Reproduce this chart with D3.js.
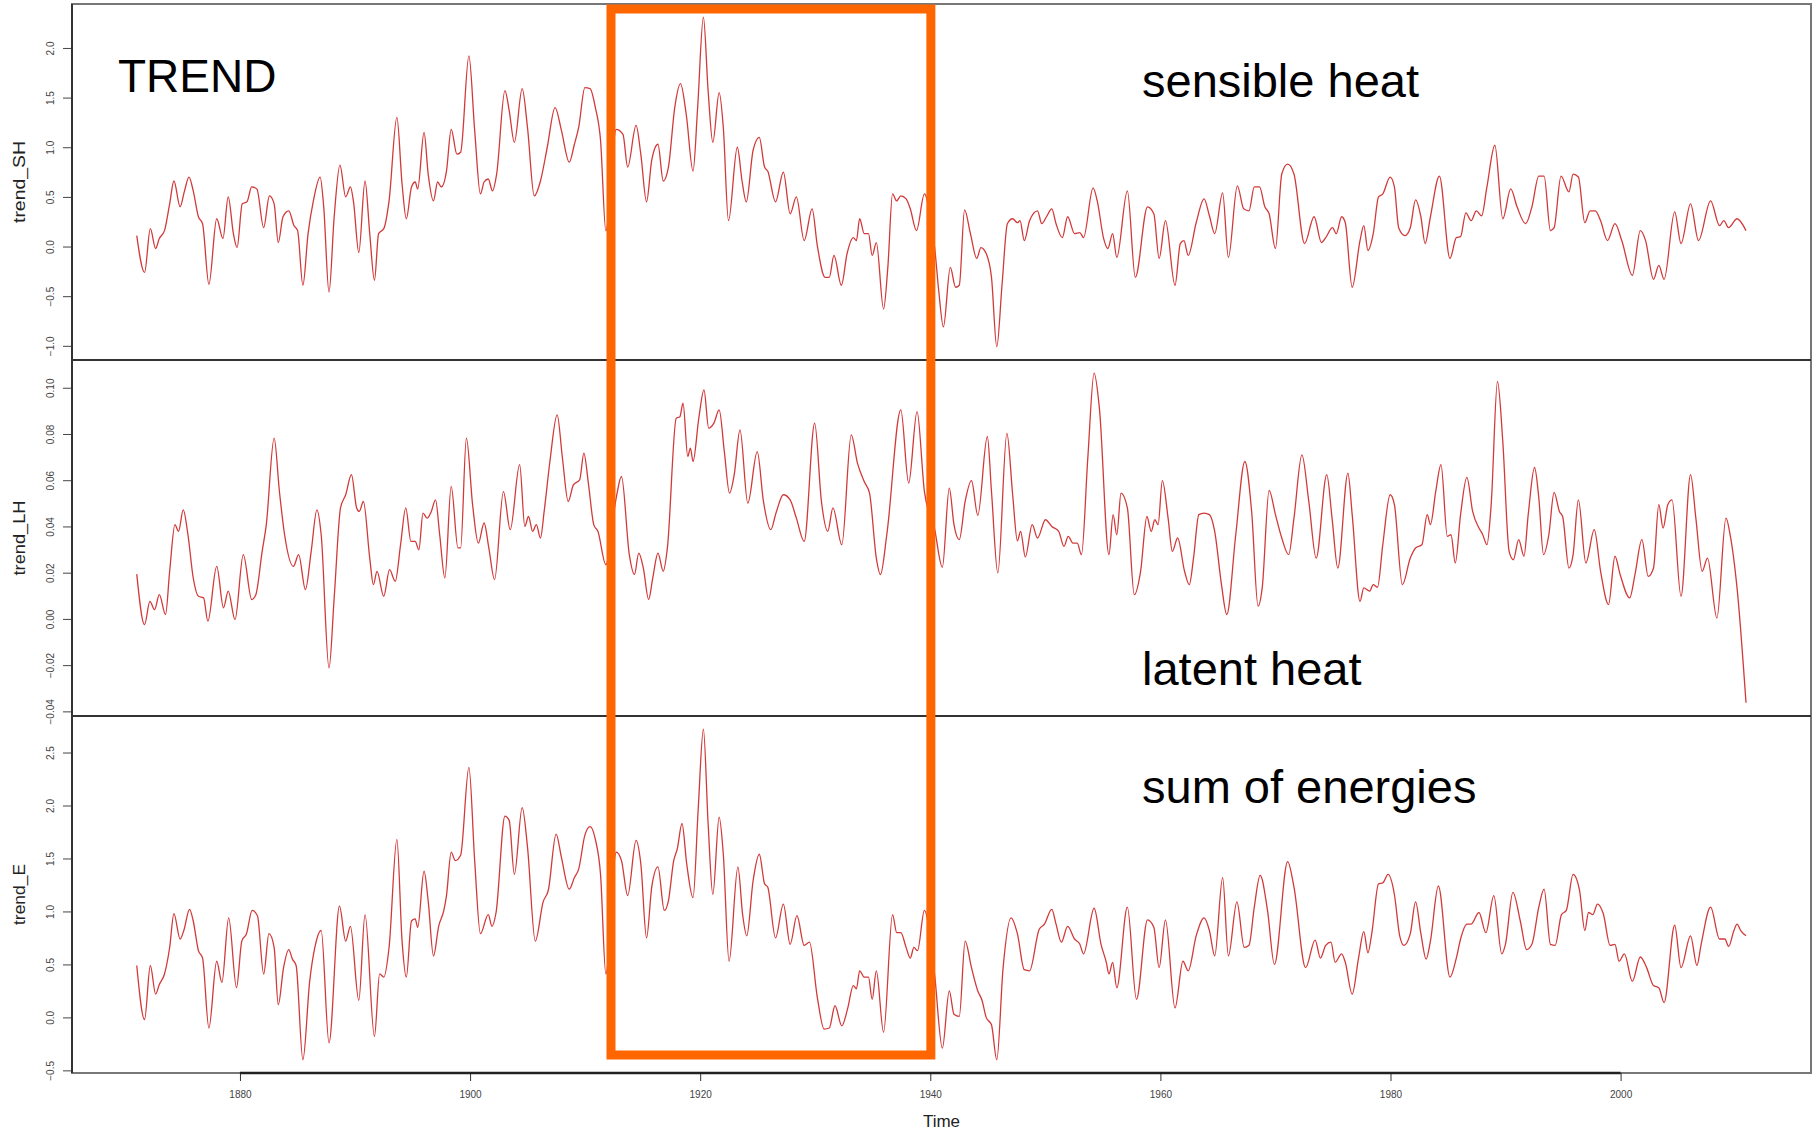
<!DOCTYPE html>
<html lang="en">
<head>
<meta charset="UTF-8">
<title>TREND</title>
<script src="https://d3js.org/d3.v7.min.js"></script>
<style>
  body { margin: 0; background: #fff; }
  svg text { font-family: "Liberation Sans", Arial, Helvetica, sans-serif; }
</style>
</head>
<body>
<svg id="chart" width="1818" height="1131"></svg>
<script>
// values: [year, value]
const trendSH = [
  [1871.03,0.11],[1871.71,-0.26],[1872.21,0.18],[1872.67,-0.02],[1872.99,0.08],[1873.44,0.16],[1873.89,0.43],[1874.26,0.66],[1874.80,0.40],[1875.16,0.55],
  [1875.57,0.70],[1875.94,0.56],[1876.39,0.30],[1876.75,0.23],[1877.30,-0.38],[1877.98,0.28],[1878.52,0.08],[1878.98,0.50],[1879.43,0.13],[1879.75,-0.01],
  [1880.20,0.43],[1880.61,0.45],[1881.02,0.60],[1881.47,0.58],[1882.06,0.19],[1882.56,0.51],[1882.97,0.43],[1883.33,0.04],[1883.74,0.30],[1884.24,0.36],
  [1884.70,0.21],[1885.01,0.16],[1885.47,-0.39],[1885.92,0.13],[1886.38,0.46],[1886.97,0.70],[1887.28,0.40],[1887.74,-0.46],[1888.19,0.30],[1888.69,0.82],
  [1889.19,0.50],[1889.60,0.60],[1889.87,0.45],[1890.33,-0.06],[1890.87,0.66],[1891.28,0.13],[1891.69,-0.34],[1892.05,0.13],[1892.50,0.18],[1892.96,0.46],
  [1893.64,1.30],[1894.09,0.63],[1894.46,0.28],[1894.91,0.60],[1895.23,0.65],[1895.45,0.58],[1896.00,1.15],[1896.36,0.73],[1896.82,0.46],[1897.18,0.65],
  [1897.50,0.60],[1897.95,0.76],[1898.36,1.18],[1898.86,0.93],[1899.18,0.95],[1899.90,1.92],[1900.40,1.17],[1900.90,0.53],[1901.22,0.65],[1901.58,0.68],
  [1901.95,0.56],[1902.31,0.73],[1903.03,1.57],[1903.40,1.37],[1903.85,1.05],[1904.53,1.59],[1904.99,1.20],[1905.58,0.51],[1906.12,0.66],[1906.71,1.00],
  [1907.39,1.40],[1907.94,1.17],[1908.62,0.85],[1909.07,1.03],[1909.44,1.20],[1909.98,1.60],[1910.43,1.59],[1910.89,1.40],[1911.34,1.07],[1911.80,0.16],
  [1912.70,1.18],[1913.29,1.13],[1913.70,0.80],[1914.43,1.22],[1914.84,0.93],[1915.34,0.45],[1915.79,0.87],[1916.33,1.03],[1916.79,0.66],[1917.24,0.80],
  [1917.79,1.40],[1918.29,1.64],[1918.79,1.33],[1919.38,0.76],[1919.78,1.40],[1920.28,2.31],[1920.69,1.57],[1921.10,1.05],[1921.65,1.55],[1922.01,1.20],
  [1922.46,0.26],[1923.23,1.00],[1923.64,0.66],[1924.01,0.45],[1924.60,0.97],[1925.14,1.10],[1925.60,0.80],[1925.87,0.76],[1926.55,0.45],[1927.23,0.75],
  [1927.82,0.33],[1928.36,0.50],[1929.04,0.06],[1929.73,0.38],[1930.18,0.01],[1930.86,-0.31],[1931.22,-0.31],[1931.63,-0.09],[1932.27,-0.39],[1932.77,-0.07],
  [1933.31,0.09],[1933.58,0.06],[1933.86,0.28],[1934.26,0.13],[1934.63,0.13],[1934.95,-0.09],[1935.31,0.04],[1935.94,-0.63],[1936.31,-0.21],[1936.72,0.53],
  [1937.08,0.46],[1937.44,0.51],[1937.90,0.48],[1938.26,0.38],[1938.80,0.16],[1939.49,0.53],[1940.17,0.16],
  [1940.36,0.01],[1940.73,-0.44],[1941.14,-0.81],[1941.74,-0.21],[1942.20,-0.41],[1942.52,-0.39],[1942.98,0.37],[1943.49,0.13],[1944.04,-0.12],[1944.40,-0.01],
  [1944.86,-0.07],[1945.32,-0.31],[1945.78,-1.01],[1946.24,-0.38],[1946.70,0.23],[1947.16,0.28],[1947.57,0.24],[1947.80,0.26],[1948.17,0.06],[1948.63,0.26],
  [1949.32,0.36],[1949.69,0.23],[1950.10,0.30],[1950.56,0.38],[1950.93,0.23],[1951.48,0.09],[1951.94,0.30],[1952.54,0.13],[1953.00,0.14],[1953.32,0.09],
  [1954.15,0.59],[1954.51,0.46],[1955.07,0.08],[1955.43,-0.02],[1955.85,0.13],[1956.21,-0.11],[1957.13,0.56],[1957.82,-0.31],[1958.88,0.40],[1959.43,0.33],
  [1959.89,-0.12],[1960.44,0.26],[1961.27,-0.39],[1961.73,0.03],[1962.05,0.06],[1962.42,-0.09],[1963.11,0.24],[1963.80,0.48],[1964.26,0.31],[1964.72,0.13],
  [1965.41,0.54],[1965.91,-0.11],[1966.69,0.61],[1967.24,0.38],[1967.70,0.36],[1968.16,0.60],[1968.62,0.60],[1969.08,0.40],[1969.45,0.33],[1970.00,-0.02],
  [1970.55,0.73],[1971.06,0.83],[1971.61,0.73],[1972.53,0.03],[1973.36,0.30],[1974.00,0.04],[1974.37,0.09],[1974.96,0.19],[1975.29,0.13],[1975.75,0.30],
  [1976.07,0.24],[1976.67,-0.41],[1977.35,0.06],[1977.68,0.21],[1978.04,-0.04],[1978.50,0.13],[1978.96,0.50],[1979.33,0.53],[1979.97,0.70],[1980.34,0.60],
  [1980.71,0.19],[1981.26,0.11],[1981.72,0.19],[1982.18,0.47],[1982.64,0.30],[1983.01,0.03],[1983.47,0.30],[1984.25,0.71],[1985.17,-0.12],[1985.72,0.09],
  [1986.09,0.10],[1986.55,0.34],[1987.01,0.26],[1987.46,0.36],[1987.92,0.31],[1988.38,0.60],[1989.07,1.02],[1989.76,0.28],[1990.45,0.58],[1991.00,0.40],
  [1991.74,0.23],[1992.29,0.40],[1992.89,0.71],[1993.35,0.71],[1993.90,0.16],[1994.22,0.19],[1994.82,0.71],[1995.51,0.55],[1995.87,0.73],[1996.33,0.70],
  [1996.89,0.24],[1997.35,0.36],[1997.80,0.36],[1998.26,0.26],[1998.86,0.06],[1999.51,0.23],[2000.10,0.06],[2001.02,-0.29],[2001.71,0.16],[2002.17,0.06],
  [2002.86,-0.33],[2003.32,-0.19],[2003.78,-0.33],[2004.70,0.35],[2005.25,0.03],[2006.08,0.43],[2006.77,0.06],[2007.82,0.46],[2008.60,0.21],[2008.97,0.26],
  [2009.39,0.19],[2010.12,0.28],[2010.90,0.16]
];

const trendLH = [
  [1871.03,0.0194],[1871.71,-0.0025],[1872.17,0.0076],[1872.58,0.0040],[1872.99,0.0105],[1873.53,0.0019],[1873.89,0.0206],[1874.35,0.0408],[1874.66,0.0379],[1875.07,0.0472],
  [1875.48,0.0364],[1875.94,0.0177],[1876.39,0.0098],[1876.84,0.0091],[1877.21,-0.0010],[1877.98,0.0227],[1878.57,0.0048],[1878.98,0.0120],[1879.57,-0.0003],[1880.29,0.0278],
  [1881.02,0.0084],[1881.38,0.0105],[1881.93,0.0292],[1882.29,0.0408],[1882.97,0.0782],[1883.43,0.0551],[1883.88,0.0364],[1884.65,0.0227],[1885.10,0.0278],[1885.69,0.0127],
  [1886.19,0.0292],[1886.69,0.0472],[1887.06,0.0364],[1887.74,-0.0212],[1888.19,0.0091],[1888.74,0.0480],[1889.19,0.0537],[1889.69,0.0624],[1890.14,0.0480],[1890.37,0.0465],
  [1890.73,0.0508],[1891.28,0.0263],[1891.60,0.0148],[1891.91,0.0206],[1892.50,0.0098],[1893.00,0.0213],[1893.50,0.0163],[1893.96,0.0321],[1894.41,0.0480],[1894.86,0.0335],
  [1895.23,0.0335],[1895.55,0.0299],[1895.91,0.0458],[1896.27,0.0436],[1896.63,0.0465],[1897.00,0.0515],[1897.36,0.0364],[1897.81,0.0177],[1898.36,0.0573],[1898.95,0.0307],
  [1899.18,0.0307],[1899.68,0.0782],[1900.22,0.0494],[1900.72,0.0328],[1901.22,0.0415],[1901.63,0.0307],[1902.13,0.0170],[1902.90,0.0551],[1903.49,0.0386],[1904.31,0.0667],
  [1904.76,0.0400],[1905.08,0.0443],[1905.44,0.0379],[1905.76,0.0408],[1906.12,0.0350],[1906.44,0.0465],[1906.94,0.0681],[1907.57,0.0883],[1908.03,0.0695],[1908.53,0.0508],
  [1908.98,0.0580],[1909.53,0.0602],[1909.89,0.0717],[1910.30,0.0580],[1910.75,0.0408],[1911.11,0.0379],[1911.80,0.0235],[1912.70,0.0523],[1913.16,0.0616],[1913.84,0.0278],
  [1914.29,0.0192],[1914.66,0.0285],[1915.06,0.0220],[1915.52,0.0084],[1915.88,0.0177],[1916.33,0.0285],[1916.79,0.0206],[1917.15,0.0307],[1917.92,0.0868],[1918.24,0.0875],
  [1918.51,0.0933],[1918.92,0.0703],[1919.15,0.0739],[1919.38,0.0681],[1919.88,0.0868],[1920.33,0.0991],[1920.74,0.0825],[1921.19,0.0847],[1921.65,0.0904],[1922.10,0.0724],
  [1922.55,0.0544],[1922.96,0.0624],[1923.46,0.0818],[1924.14,0.0501],[1924.96,0.0724],[1925.50,0.0508],[1926.14,0.0386],[1926.59,0.0458],[1927.23,0.0537],[1927.82,0.0515],
  [1928.36,0.0436],[1929.04,0.0335],[1929.95,0.0847],[1930.54,0.0508],[1931.09,0.0379],[1931.54,0.0480],[1932.31,0.0321],[1933.13,0.0796],[1933.67,0.0674],[1934.26,0.0594],
  [1934.72,0.0544],[1935.31,0.0263],[1935.67,0.0192],[1936.22,0.0364],[1937.44,0.0904],[1938.12,0.0587],[1938.85,0.0897],[1939.49,0.0551],
  [1940.36,0.0393],[1941.05,0.0223],[1941.65,0.0566],[1942.06,0.0408],[1942.52,0.0343],[1943.03,0.0508],[1943.58,0.0598],[1944.13,0.0448],[1944.96,0.0789],[1945.32,0.0551],
  [1945.87,0.0199],[1946.66,0.0803],[1947.16,0.0537],[1947.57,0.0338],[1947.85,0.0379],[1948.26,0.0268],[1948.86,0.0408],[1949.32,0.0350],[1950.01,0.0429],[1950.56,0.0400],
  [1951.16,0.0379],[1951.62,0.0314],[1951.99,0.0357],[1952.40,0.0328],[1952.77,0.0328],[1953.14,0.0278],[1953.69,0.0695],[1954.24,0.1063],[1954.70,0.0911],[1955.53,0.0278],
  [1955.89,0.0451],[1956.21,0.0364],[1956.58,0.0544],[1957.13,0.0480],[1957.73,0.0105],[1958.28,0.0206],[1958.83,0.0443],[1959.20,0.0379],[1959.52,0.0429],[1959.80,0.0408],
  [1960.17,0.0598],[1960.67,0.0436],[1961.04,0.0292],[1961.50,0.0350],[1962.10,0.0206],[1962.51,0.0148],[1962.88,0.0263],[1963.34,0.0451],[1963.80,0.0458],[1964.26,0.0451],
  [1964.72,0.0379],[1965.31,0.0148],[1965.77,0.0019],[1966.55,0.0364],[1967.34,0.0681],[1967.93,0.0465],[1968.49,0.0055],[1968.85,0.0134],[1969.45,0.0556],[1970.00,0.0451],
  [1970.55,0.0350],[1971.15,0.0278],[1971.61,0.0436],[1972.30,0.0710],[1972.90,0.0508],[1973.54,0.0263],[1974.46,0.0624],[1974.92,0.0436],[1975.42,0.0220],[1976.30,0.0631],
  [1976.67,0.0451],[1977.35,0.0076],[1977.68,0.0134],[1978.18,0.0120],[1978.50,0.0148],[1978.87,0.0137],[1979.33,0.0321],[1979.97,0.0537],[1980.34,0.0494],[1981.03,0.0148],
  [1981.72,0.0263],[1982.18,0.0307],[1982.73,0.0321],[1983.19,0.0451],[1983.47,0.0408],[1983.93,0.0551],[1984.39,0.0667],[1984.94,0.0357],[1985.26,0.0364],[1985.63,0.0242],
  [1986.09,0.0451],[1986.64,0.0612],[1987.14,0.0465],[1987.69,0.0393],[1988.02,0.0364],[1988.38,0.0321],[1988.75,0.0494],[1989.30,0.1027],[1989.76,0.0767],[1990.31,0.0292],
  [1990.68,0.0256],[1991.14,0.0343],[1991.60,0.0271],[1991.97,0.0451],[1992.52,0.0655],[1992.89,0.0523],[1993.30,0.0278],[1993.76,0.0364],[1994.22,0.0547],[1994.68,0.0465],
  [1994.96,0.0443],[1995.51,0.0220],[1995.87,0.0278],[1996.33,0.0515],[1996.98,0.0242],[1997.71,0.0386],[1998.26,0.0206],[1998.95,0.0062],[1999.51,0.0271],[1999.96,0.0192],
  [2000.79,0.0091],[2001.25,0.0192],[2001.85,0.0343],[2002.40,0.0184],[2002.86,0.0220],[2003.32,0.0494],[2003.69,0.0393],[2004.10,0.0494],[2004.47,0.0515],[2005.25,0.0098],
  [2006.08,0.0624],[2006.54,0.0436],[2007.09,0.0206],[2007.55,0.0263],[2008.37,0.0004],[2009.16,0.0436],[2009.52,0.0364],[2010.12,0.0134],[2010.90,-0.0363]
];

const trendE = [
  [1871.03,0.49],[1871.71,-0.02],[1872.21,0.49],[1872.67,0.22],[1872.99,0.31],[1873.44,0.41],[1873.89,0.66],[1874.26,0.98],[1874.80,0.74],[1875.12,0.82],
  [1875.62,1.02],[1875.94,0.91],[1876.39,0.63],[1876.75,0.56],[1877.30,-0.10],[1877.98,0.53],[1878.43,0.33],[1879.02,0.94],[1879.70,0.28],[1880.16,0.72],
  [1880.57,0.79],[1881.06,1.01],[1881.52,0.96],[1882.06,0.41],[1882.52,0.79],[1882.97,0.66],[1883.33,0.12],[1883.79,0.47],[1884.24,0.64],[1884.56,0.55],
  [1884.88,0.49],[1885.47,-0.40],[1886.06,0.34],[1886.51,0.66],[1887.06,0.82],[1887.74,-0.24],[1888.65,1.05],[1889.19,0.72],[1889.60,0.86],[1890.33,0.16],
  [1890.87,0.97],[1891.69,-0.18],[1892.14,0.41],[1892.50,0.38],[1892.96,0.66],[1893.64,1.68],[1894.09,0.72],[1894.46,0.38],[1894.91,0.91],[1895.23,0.93],
  [1895.45,0.85],[1896.00,1.38],[1896.36,1.10],[1896.82,0.58],[1897.27,0.86],[1897.72,1.01],[1897.95,1.15],[1898.36,1.56],[1898.72,1.48],[1899.18,1.53],
  [1899.90,2.36],[1900.40,1.48],[1900.90,0.79],[1901.58,0.97],[1901.90,0.86],[1902.26,0.99],[1903.03,1.90],[1903.40,1.86],[1903.85,1.35],[1904.53,1.98],
  [1904.99,1.61],[1905.67,0.72],[1906.35,1.09],[1906.80,1.20],[1907.48,1.73],[1907.94,1.51],[1908.62,1.21],[1909.07,1.32],[1909.44,1.40],[1909.98,1.72],
  [1910.43,1.80],[1910.89,1.68],[1911.34,1.35],[1911.80,0.41],[1912.70,1.56],[1913.16,1.48],[1913.70,1.15],[1914.43,1.67],[1914.84,1.45],[1915.34,0.75],
  [1915.79,1.23],[1916.33,1.42],[1916.88,1.01],[1917.24,1.10],[1917.70,1.48],[1918.01,1.59],[1918.42,1.83],[1918.83,1.45],[1919.38,1.13],[1919.83,1.97],
  [1920.28,2.72],[1920.69,1.83],[1921.10,1.16],[1921.65,1.89],[1922.01,1.54],[1922.51,0.53],[1923.28,1.42],[1923.69,0.97],[1924.05,0.77],[1924.60,1.29],
  [1925.14,1.54],[1925.60,1.26],[1925.87,1.23],[1926.55,0.75],[1927.23,1.07],[1927.82,0.69],[1928.41,0.96],[1929.04,0.68],[1929.50,0.71],[1930.18,0.19],
  [1930.77,-0.11],[1931.22,-0.10],[1931.72,0.11],[1932.31,-0.08],[1932.81,0.08],[1933.31,0.30],[1933.58,0.27],[1933.86,0.44],[1934.26,0.38],[1934.63,0.38],
  [1934.95,0.17],[1935.31,0.44],[1935.94,-0.14],[1936.72,0.97],[1937.08,0.80],[1937.44,0.80],[1937.90,0.66],[1938.26,0.56],[1938.58,0.66],[1938.89,0.63],
  [1939.49,1.01],
  [1940.36,0.42],[1941.05,-0.29],[1941.65,0.25],[1942.06,0.03],[1942.52,0.01],[1943.03,0.72],[1943.58,0.47],[1944.13,0.25],[1944.50,0.16],[1944.86,0.00],
  [1945.32,-0.07],[1945.78,-0.40],[1946.33,0.47],[1947.02,0.94],[1947.57,0.79],[1948.17,0.45],[1948.63,0.44],[1949.46,0.83],[1949.92,0.88],[1950.56,1.02],
  [1950.93,0.88],[1951.39,0.71],[1951.94,0.86],[1952.54,0.74],[1953.00,0.69],[1953.32,0.60],[1954.24,1.03],[1954.84,0.69],[1955.30,0.52],[1955.53,0.41],
  [1955.85,0.52],[1956.21,0.28],[1957.13,1.04],[1957.92,0.17],[1958.88,0.92],[1959.43,0.85],[1959.89,0.47],[1960.44,0.92],[1961.27,0.09],[1961.96,0.53],
  [1962.42,0.44],[1963.11,0.77],[1963.80,0.94],[1964.26,0.82],[1964.72,0.58],[1965.41,1.32],[1965.91,0.58],[1966.65,1.09],[1967.29,0.66],[1967.70,0.68],
  [1968.16,1.04],[1968.67,1.34],[1969.31,1.01],[1969.91,0.50],[1971.06,1.47],[1971.61,1.23],[1972.62,0.47],[1973.45,0.73],[1973.91,0.56],[1974.37,0.68],
  [1974.83,0.71],[1975.19,0.52],[1975.75,0.60],[1976.07,0.52],[1976.67,0.22],[1977.22,0.56],[1977.68,0.81],[1978.04,0.61],[1978.37,0.79],[1978.96,1.26],
  [1979.33,1.27],[1979.79,1.35],[1980.34,1.16],[1980.80,0.77],[1981.17,0.68],[1981.72,0.79],[1982.18,1.09],[1982.64,0.79],[1983.10,0.55],[1983.47,0.72],
  [1984.16,1.24],[1985.17,0.38],[1985.72,0.56],[1986.09,0.74],[1986.64,0.88],[1987.01,0.88],[1987.69,0.99],[1988.29,0.80],[1988.98,1.15],[1989.67,0.60],
  [1989.99,0.69],[1990.64,1.18],[1991.28,0.91],[1991.83,0.64],[1992.29,0.69],[1992.89,1.04],[1993.35,1.21],[1993.90,0.69],[1994.31,0.68],[1994.86,0.97],
  [1995.28,1.01],[1995.87,1.35],[1996.43,1.20],[1996.89,0.82],[1997.21,0.99],[1997.58,0.97],[1997.99,1.07],[1998.49,0.98],[1999.09,0.68],[1999.51,0.69],
  [1999.87,0.53],[2000.33,0.60],[2001.02,0.34],[2001.71,0.57],[2002.26,0.47],[2002.86,0.30],[2003.32,0.28],[2003.78,0.14],[2004.70,0.87],[2005.25,0.47],
  [2006.08,0.77],[2006.63,0.49],[2007.00,0.69],[2007.82,1.04],[2008.60,0.74],[2009.06,0.74],[2009.39,0.67],[2009.85,0.82],[2010.12,0.88],[2010.44,0.82],
  [2010.90,0.77]
];

const yearTicks = [1880, 1900, 1920, 1940, 1960, 1980, 2000];
const ticksSH = [-1.0, -0.5, 0.0, 0.5, 1.0, 1.5, 2.0];
const ticksLH = [-0.04, -0.02, 0.00, 0.02, 0.04, 0.06, 0.08, 0.10];
const ticksE = [-0.5, 0.0, 0.5, 1.0, 1.5, 2.0, 2.5];
const panelNames = ["trend_SH", "trend_LH", "trend_E"];
const panelLabels = ["sensible heat", "latent heat", "sum of energies"];
const highlightYears = [1912.25, 1940.05];

const svg = d3.select("#chart");
const plotLeft = 72, plotRight = 1811;

// R pads the range by 4% on each side
const pad = (lo, hi) => [lo - (hi - lo) * 0.04, hi + (hi - lo) * 0.04];

const x = d3.scaleLinear()
  .domain(pad(1871.0, 2010.95))
  .range([plotLeft, plotRight]);

const panels = [
  { data: trendSH, ticks: ticksSH, fmt: d3.format(".1f"), top: 4, bottom: 360, nameLen: 82, label: panelLabels[0], labelY: 97 },
  { data: trendLH, ticks: ticksLH, fmt: d3.format(".2f"), top: 360, bottom: 716, nameLen: 75, label: panelLabels[1], labelY: 685 },
  { data: trendE, ticks: ticksE, fmt: d3.format(".1f"), top: 716, bottom: 1073, nameLen: 61, label: panelLabels[2], labelY: 803 }
];

svg.append("rect").attr("width", 1818).attr("height", 1131).attr("fill", "#fff");

panels.forEach(function (p, i) {
  const ext = d3.extent(p.data, d => d[1]);
  const y = d3.scaleLinear().domain(pad(ext[0], ext[1])).range([p.bottom, p.top]);

  const line = d3.line()
    .x(d => x(d[0]))
    .y(d => y(d[1]))
    .curve(d3.curveMonotoneX);

  svg.append("path")
    .datum(p.data)
    .attr("d", line)
    .attr("fill", "none")
    .attr("stroke", "#d23a3a")
    .attr("stroke-width", 1.3)
    .attr("stroke-linejoin", "round");

  const ax = svg.append("g")
    .attr("transform", "translate(" + plotLeft + ",0)")
    .call(d3.axisLeft(y).tickValues(p.ticks).tickSize(9).tickFormat(p.fmt));
  ax.select(".domain").remove();
  ax.selectAll(".tick line").attr("stroke", "#444");
  ax.selectAll(".tick text")
    .attr("transform", "rotate(-90)")
    .attr("x", 0).attr("y", -18).attr("dy", 0)
    .attr("text-anchor", "middle")
    .attr("font-size", 10)
    .attr("fill", "#444");

  svg.append("text")
    .attr("transform", "translate(25," + (p.top + p.bottom) / 2 + ") rotate(-90)")
    .attr("text-anchor", "middle")
    .attr("font-size", 16)
    .attr("textLength", p.nameLen)
    .attr("lengthAdjust", "spacingAndGlyphs")
    .attr("fill", "#222")
    .text(panelNames[i]);

  svg.append("text")
    .attr("x", 1142)
    .attr("y", p.labelY)
    .attr("font-size", 47)
    .attr("fill", "#000")
    .text(p.label);
});

// frame and panel separators
svg.append("rect")
  .attr("x", plotLeft).attr("y", 4)
  .attr("width", plotRight - plotLeft).attr("height", 1073 - 4)
  .attr("fill", "none").attr("stroke", "#777").attr("stroke-width", 2);

svg.selectAll("line.sep")
  .data([360, 716])
  .join("line")
  .attr("class", "sep")
  .attr("x1", plotLeft).attr("x2", plotRight)
  .attr("y1", d => d).attr("y2", d => d)
  .attr("stroke", "#333").attr("stroke-width", 2);

svg.append("line")
  .attr("x1", plotLeft).attr("x2", plotLeft)
  .attr("y1", 4).attr("y2", 1073)
  .attr("stroke", "#333").attr("stroke-width", 2);

// time axis
const xa = svg.append("g")
  .attr("transform", "translate(0,1073)")
  .call(d3.axisBottom(x).tickValues(yearTicks).tickSize(8).tickPadding(10).tickFormat(d3.format("d")));
xa.select(".domain").remove();
xa.selectAll(".tick line").attr("stroke", "#333");
xa.selectAll(".tick text").attr("font-size", 10).attr("fill", "#444");

svg.append("line")
  .attr("x1", x(yearTicks[0])).attr("x2", x(yearTicks[yearTicks.length - 1]))
  .attr("y1", 1073).attr("y2", 1073)
  .attr("stroke", "#222").attr("stroke-width", 2.5);

svg.append("text")
  .attr("x", (plotLeft + plotRight) / 2)
  .attr("y", 1127)
  .attr("text-anchor", "middle")
  .attr("font-size", 17)
  .attr("fill", "#222")
  .text("Time");

svg.append("text")
  .attr("x", 118)
  .attr("y", 92)
  .attr("font-size", 46)
  .attr("fill", "#000")
  .text("TREND");

// orange highlight box
svg.append("rect")
  .attr("x", x(highlightYears[0]))
  .attr("y", 9)
  .attr("width", x(highlightYears[1]) - x(highlightYears[0]))
  .attr("height", 1055 - 9)
  .attr("fill", "none")
  .attr("stroke", "#ff6600")
  .attr("stroke-width", 9);
</script>
</body>
</html>
